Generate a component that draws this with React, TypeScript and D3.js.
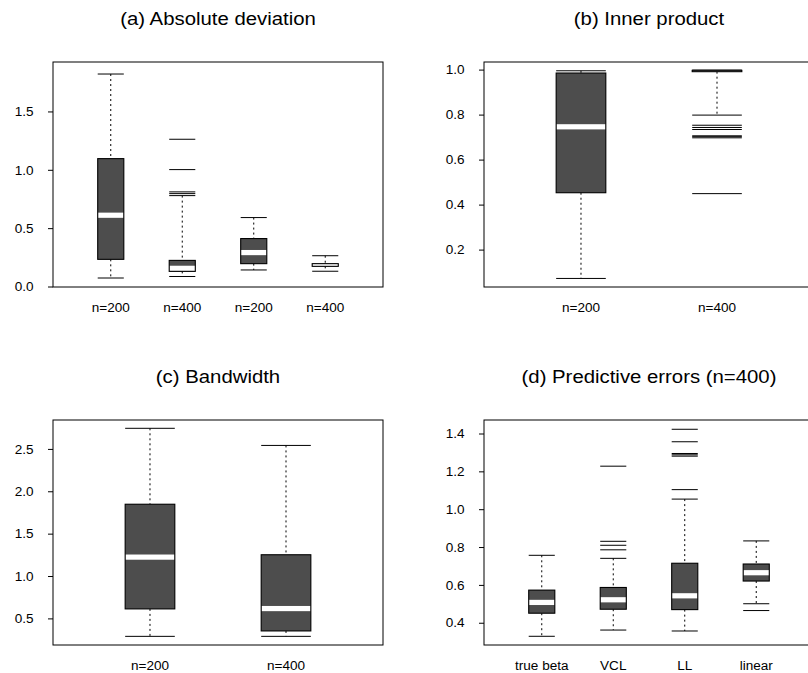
import React from "react";
import * as d3 from "d3";

// ---------- Data ----------
// (a) Absolute deviation
const catsA = ["n=200", "n=400", "n=200", "n=400"];
const loA = [0.077, 0.09, 0.146, 0.135];
const q1A = [0.237, 0.134, 0.2, 0.177];
const medA = [0.615, 0.16, 0.295, 0.19];
const q3A = [1.1, 0.228, 0.415, 0.2];
const hiA = [1.825, 0.783, 0.595, 0.268];
const outA: number[][] = [[], [0.8, 0.815, 1.006, 1.266], [], []];
const ticksA = [0, 0.5, 1.0, 1.5];

// (b) Inner product
const catsB = ["n=200", "n=400"];
const loB = [0.074, 0.8];
const q1B = [0.455, 0.993];
const medB = [0.748, 0.997];
const q3B = [0.987, 0.999];
const hiB = [0.997, 1.0];
const outB: number[][] = [[], [0.451, 0.699, 0.704, 0.708, 0.736, 0.745, 0.755]];
const ticksB = [0.2, 0.4, 0.6, 0.8, 1.0];

// (c) Bandwidth
const catsC = ["n=200", "n=400"];
const loC = [0.294, 0.294];
const q1C = [0.618, 0.358];
const medC = [1.229, 0.622];
const q3C = [1.853, 1.257];
const hiC = [2.749, 2.547];
const outC: number[][] = [[], []];
const ticksC = [0.5, 1.0, 1.5, 2.0, 2.5];

// (d) Predictive errors (n=400)
const catsD = ["true beta", "VCL", "LL", "linear"];
const loD = [0.331, 0.364, 0.359, 0.503];
const q1D = [0.453, 0.474, 0.472, 0.623];
const medD = [0.51, 0.524, 0.545, 0.667];
const q3D = [0.575, 0.589, 0.717, 0.713];
const hiD = [0.759, 0.743, 1.056, 0.835];
const outD: number[][] = [[], [0.788, 0.812, 0.833, 1.23], [1.106, 1.283, 1.29, 1.297, 1.359, 1.425], [0.467]];
const ticksD = [0.4, 0.6, 0.8, 1.0, 1.2, 1.4];

const titles = ["(a) Absolute deviation", "(b) Inner product", "(c) Bandwidth", "(d) Predictive errors (n=400)"];

// ---------- Layout ----------
const W = 808;
const H = 673;
const FONT = "'Liberation Sans', Arial, sans-serif";
const BOX_FILL = "#4d4d4d";

type PanelSpec = {
  title: string;
  cats: string[];
  lo: number[];
  q1: number[];
  med: number[];
  q3: number[];
  hi: number[];
  out: number[][];
  ticks: number[];
  domain: [number, number];
  left: number;
  top: number;
  padding: number;
};

const PW = 330;
const PH = 225;

const panels: PanelSpec[] = [
  { title: titles[0], cats: catsA, lo: loA, q1: q1A, med: medA, q3: q3A, hi: hiA, out: outA, ticks: ticksA, domain: [0, 1.928], left: 53, top: 62, padding: 0.808 },
  { title: titles[1], cats: catsB, lo: loB, q1: q1B, med: medB, q3: q3B, hi: hiB, out: outB, ticks: ticksB, domain: [0.036, 1.036], left: 484, top: 62, padding: 0.713 },
  { title: titles[2], cats: catsC, lo: loC, q1: q1C, med: medC, q3: q3C, hi: hiC, out: outC, ticks: ticksC, domain: [0.192, 2.847], left: 53, top: 420, padding: 0.713 },
  { title: titles[3], cats: catsD, lo: loD, q1: q1D, med: medD, q3: q3D, hi: hiD, out: outD, ticks: ticksD, domain: [0.285, 1.474], left: 484, top: 420, padding: 0.808 },
];

function SText(props: { x: number; y: number; size: number; sx: number; anchor: string; baseline?: string; children: React.ReactNode }) {
  const { x, y, size, sx, anchor, baseline, children } = props;
  return (
    <text
      transform={`translate(${x},${y}) scale(${sx},1)`}
      fontSize={size}
      fontFamily={FONT}
      textAnchor={anchor}
      dominantBaseline={baseline || "alphabetic"}
      fill="#000"
    >
      {children}
    </text>
  );
}

function Panel({ p }: { p: PanelSpec }) {
  const right = p.left + PW;
  const bottom = p.top + PH;
  const y = d3.scaleLinear().domain(p.domain).range([bottom, p.top]);
  const x = d3.scalePoint<number>().domain(p.cats.map((_, i) => i)).range([p.left, right]).padding(p.padding);
  const bw = x.step() * 0.365;
  const hw = bw / 2;
  const cx = (i: number) => x(i) as number;

  return (
    <g>
      <SText x={(p.left + right) / 2} y={p.top - 37} size={18.5} sx={1.1} anchor="middle">
        {p.title}
      </SText>
      {/* y axis ticks */}
      {p.ticks.map((t) => (
        <g key={t}>
          <line x1={p.left - 5} x2={p.left} y1={y(t)} y2={y(t)} stroke="#000" strokeWidth={1} />
          <SText x={p.left - 19.5} y={y(t)} size={12} sx={1.13} anchor="end" baseline="central">
            {d3.format(".1f")(t)}
          </SText>
        </g>
      ))}
      {/* x labels */}
      {p.cats.map((c, i) => (
        <SText key={i} x={cx(i)} y={bottom + 24.5} size={12} sx={1.13} anchor="middle">
          {c}
        </SText>
      ))}
      {/* boxes */}
      {p.cats.map((_, i) => {
        const c = cx(i);
        const yq3 = y(p.q3[i]);
        const yq1 = y(p.q1[i]);
        const ym = y(p.med[i]);
        const bandTop = Math.max(ym - 2.6, yq3);
        const bandBot = Math.min(ym + 2.6, yq1);
        return (
          <g key={i}>
            <line x1={c} x2={c} y1={y(p.hi[i])} y2={yq3} stroke="#000" strokeWidth={1} strokeDasharray="2,3" />
            <line x1={c} x2={c} y1={yq1} y2={y(p.lo[i])} stroke="#000" strokeWidth={1} strokeDasharray="2,3" />
            <line x1={c - hw} x2={c + hw} y1={y(p.hi[i])} y2={y(p.hi[i])} stroke="#000" strokeWidth={1} />
            <line x1={c - hw} x2={c + hw} y1={y(p.lo[i])} y2={y(p.lo[i])} stroke="#000" strokeWidth={1} />
            <rect x={c - hw} y={yq3} width={bw} height={Math.max(yq1 - yq3, 0.5)} fill={BOX_FILL} />
            {bandBot > bandTop && (
              <rect x={c - hw} y={bandTop} width={bw} height={bandBot - bandTop} fill="#fff" />
            )}
            <rect x={c - hw} y={yq3} width={bw} height={Math.max(yq1 - yq3, 0.5)} fill="none" stroke="#000" strokeWidth={1.1} />
            {p.out[i].map((o, k) => (
              <line key={k} x1={c - hw} x2={c + hw} y1={y(o)} y2={y(o)} stroke="#000" strokeWidth={1} />
            ))}
          </g>
        );
      })}
      {/* frame */}
      <rect x={p.left} y={p.top} width={PW} height={PH} fill="none" stroke="#000" strokeWidth={1} />
    </g>
  );
}

export default function App() {
  return (
    <svg width={W} height={H} style={{ position: "absolute", left: 0, top: 0, background: "#fff" }}>
      <rect width={W} height={H} fill="#fff" />
      {panels.map((p, i) => (
        <Panel key={i} p={p} />
      ))}
    </svg>
  );
}
